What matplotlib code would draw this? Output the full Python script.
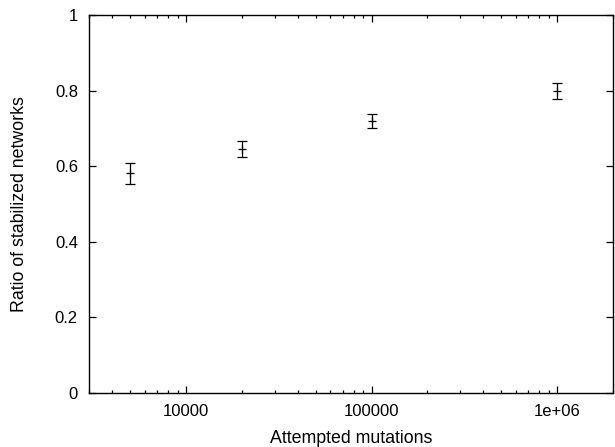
import matplotlib
matplotlib.use("Agg")
from matplotlib import pyplot as plt
from matplotlib import ticker

# data
mutations = [5000, 20000, 100000, 1000000]
ratio = [0.581, 0.646, 0.720, 0.799]
error = [0.028, 0.022, 0.018, 0.022]

x_ticks = [10000, 100000, 1000000]
x_tick_labels = ["10000", "100000", "1e+06"]
y_ticks = [0, 0.2, 0.4, 0.6, 0.8, 1]
y_tick_labels = ["0", "0.2", "0.4", "0.6", "0.8", "1"]

plt.rcParams["font.family"] = ["Liberation Sans", "DejaVu Sans"]
plt.rcParams["font.size"] = 12

fig = plt.figure(figsize=(6.15, 4.47), dpi=100)
ax = fig.add_axes([0.1447, 0.1208, 0.8520, 0.8456])

ax.errorbar(mutations, ratio, yerr=error, fmt="+", color="black",
            markersize=6, markeredgewidth=0.9, elinewidth=0.9,
            capsize=3.5, capthick=0.9)

ax.set_xscale("log")
ax.set_xlim(3000, 2e6)
ax.set_ylim(0, 1)
ax.set_xticks(x_ticks)
ax.set_xticklabels(x_tick_labels)
ax.xaxis.set_minor_locator(ticker.LogLocator(base=10, subs=range(2, 10)))
ax.xaxis.set_minor_formatter(ticker.NullFormatter())
ax.set_yticks(y_ticks)
ax.set_yticklabels(y_tick_labels)

ax.tick_params(which="both", direction="in", top=True, right=True, width=0.9)
ax.tick_params(which="major", length=5, pad=8)
ax.tick_params(which="minor", length=2.5)
for spine in ax.spines.values():
    spine.set_linewidth(1.0)

ax.set_xlabel("Attempted mutations", fontsize=12.8, labelpad=8)
ax.set_ylabel("Ratio of stabilized networks", fontsize=12.8, labelpad=19)

fig.savefig("out.png", dpi=100)
